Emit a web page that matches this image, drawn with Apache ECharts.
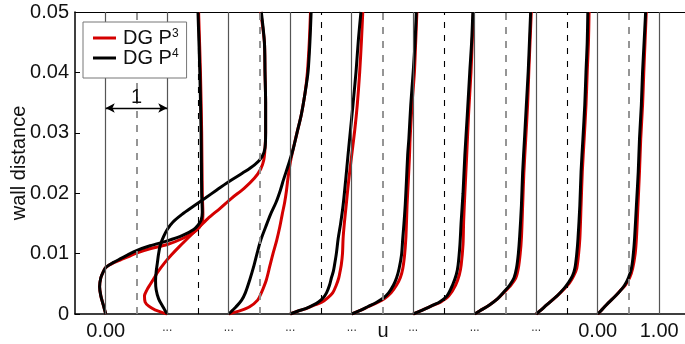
<!DOCTYPE html>
<html>
<head>
<meta charset="utf-8">
<script src="https://cdn.jsdelivr.net/npm/echarts@6/dist/echarts.min.js"></script>
<style>
  html, body { margin: 0; padding: 0; background: #fff; }
  #c { width: 685px; height: 344px; }
</style>
</head>
<body>
<div id="c"></div>
<script>
// ---------- axis ticks ----------
const xTickValues = [0, 1, 2, 3, 4, 5, 6, 7, 8, 9];
const xTickLabels = ['0.00', '...', '...', '...', '...', '...', '...', '...', '0.00', '1.00'];
const solidLineValues = [0, 1, 2, 3, 4, 5, 6, 7, 8, 9];
const greyDashValues = [0.5, 2.5, 4.5, 6.5, 8.5];
const blackDashValues = [1.5, 3.5, 5.5, 7.5];
const scaleBarU = [0, 1];
const scaleBarY = 0.0341;
const scaleBarText = '1';

// ---------- profile 0 ----------
const yP4_0 = [0, 0.0015, 0.003, 0.0045, 0.006, 0.007, 0.0077, 0.0085, 0.0092, 0.0099, 0.0105, 0.0113, 0.0121, 0.0130, 0.0140, 0.0147, 0.0155, 0.0168, 0.020, 0.030, 0.040, 0.050];
const uP4_0 = [0, -0.04, -0.08, -0.10, -0.08, -0.04, 0.00, 0.12, 0.25, 0.38, 0.50, 0.72, 1.00, 1.25, 1.43, 1.50, 1.55, 1.57, 1.56, 1.55, 1.53, 1.50];
const yP3_0 = [0, 0.0015, 0.003, 0.0045, 0.006, 0.007, 0.0077, 0.0085, 0.0090, 0.0095, 0.0101, 0.0108, 0.0115, 0.0125, 0.0135, 0.0143, 0.0152, 0.0165, 0.020, 0.030, 0.040, 0.050];
const uP3_0 = [0, -0.04, -0.08, -0.10, -0.08, -0.04, 0.00, 0.13, 0.25, 0.37, 0.50, 0.72, 1.00, 1.25, 1.43, 1.52, 1.57, 1.58, 1.57, 1.56, 1.54, 1.51];

// ---------- profile 1 ----------
const yP4_1 = [0, 0.0012, 0.0025, 0.004, 0.0055, 0.007, 0.0085, 0.0100, 0.0115, 0.0128, 0.0140, 0.0152, 0.0165, 0.0178, 0.0192, 0.0205, 0.0219, 0.0233, 0.0247, 0.0260, 0.0275, 0.030, 0.035, 0.040, 0.045, 0.050];
const uP4_1 = [0, -0.07, -0.14, -0.18, -0.19, -0.18, -0.16, -0.14, -0.11, -0.06, 0.00, 0.09, 0.24, 0.42, 0.62, 0.80, 1.00, 1.22, 1.42, 1.54, 1.59, 1.60, 1.60, 1.59, 1.58, 1.53];
const yP3_1 = [0, 0.0007, 0.0013, 0.002, 0.003, 0.004, 0.005, 0.006, 0.007, 0.0085, 0.0098, 0.0112, 0.0125, 0.0140, 0.0158, 0.0175, 0.0192, 0.0208, 0.0225, 0.0240, 0.0255, 0.0274, 0.030, 0.035, 0.040, 0.045, 0.050];
const uP3_1 = [0, -0.20, -0.30, -0.36, -0.37, -0.33, -0.27, -0.21, -0.15, -0.04, 0.07, 0.20, 0.33, 0.48, 0.66, 0.86, 1.05, 1.25, 1.42, 1.52, 1.57, 1.59, 1.60, 1.60, 1.59, 1.58, 1.52];

// ---------- profile 2 ----------
const y2 = [0, 0.0006, 0.0012, 0.0023, 0.0035, 0.0056, 0.008, 0.010, 0.0122, 0.0144, 0.0165, 0.0185, 0.0205, 0.0222, 0.025, 0.0274, 0.030, 0.033, 0.0365, 0.0401, 0.045, 0.050];
const uP4_2 = [0, 0.06, 0.12, 0.21, 0.27, 0.34, 0.41, 0.46, 0.52, 0.60, 0.68, 0.77, 0.84, 0.89, 0.98, 1.05, 1.11, 1.18, 1.24, 1.29, 1.32, 1.34];
const uP3_2 = [0, 0.20, 0.34, 0.47, 0.53, 0.61, 0.67, 0.72, 0.78, 0.83, 0.87, 0.91, 0.94, 0.96, 1.00, 1.05, 1.11, 1.18, 1.24, 1.28, 1.31, 1.33];

// ---------- profile 3 ----------
const y3 = [0, 0.0005, 0.0009, 0.0015, 0.002, 0.0026, 0.0035, 0.0048, 0.006, 0.007, 0.0081, 0.010, 0.0125, 0.015, 0.018, 0.022, 0.0263, 0.0305, 0.0346, 0.0401, 0.0456, 0.050];
const uP4_3 = [0, 0.13, 0.25, 0.38, 0.46, 0.53, 0.59, 0.64, 0.67, 0.70, 0.72, 0.75, 0.78, 0.82, 0.86, 0.90, 0.94, 0.98, 1.02, 1.07, 1.11, 1.15];
const uP3_3 = [0, 0.13, 0.26, 0.40, 0.52, 0.60, 0.69, 0.75, 0.79, 0.81, 0.83, 0.85, 0.86, 0.88, 0.91, 0.95, 1.00, 1.05, 1.09, 1.13, 1.16, 1.18];

// ---------- profile 4 ----------
const y4 = [0, 0.0005, 0.0012, 0.0019, 0.0026, 0.0035, 0.0048, 0.006, 0.0075, 0.0098, 0.0125, 0.015, 0.018, 0.022, 0.0263, 0.0291, 0.0346, 0.0401, 0.045, 0.050];
const uP4_4 = [0, 0.12, 0.26, 0.40, 0.51, 0.60, 0.68, 0.73, 0.77, 0.81, 0.83, 0.85, 0.87, 0.89, 0.91, 0.93, 0.96, 1.00, 1.03, 1.05];
const uP3_4 = [0, 0.12, 0.27, 0.42, 0.54, 0.64, 0.73, 0.79, 0.83, 0.86, 0.88, 0.89, 0.90, 0.92, 0.94, 0.95, 0.98, 1.02, 1.04, 1.06];

// ---------- profile 5 ----------
const y5 = [0, 0.0005, 0.00094, 0.0015, 0.002, 0.003, 0.0048, 0.0065, 0.0081, 0.0115, 0.0153, 0.020, 0.0263, 0.033, 0.0401, 0.045, 0.050];
const uP4_5 = [0, 0.12, 0.21, 0.33, 0.43, 0.55, 0.64, 0.70, 0.73, 0.76, 0.78, 0.81, 0.84, 0.88, 0.92, 0.95, 0.97];
const uP3_5 = [0, 0.12, 0.21, 0.34, 0.45, 0.58, 0.69, 0.75, 0.78, 0.81, 0.82, 0.84, 0.87, 0.90, 0.94, 0.96, 0.98];

// ---------- profile 6 ----------
const y6 = [0, 0.0005, 0.0015, 0.0025, 0.0036, 0.0048, 0.006, 0.0076, 0.010, 0.0126, 0.018, 0.0235, 0.029, 0.0346, 0.0401, 0.045, 0.050];
const uP4_6 = [0, 0.08, 0.24, 0.37, 0.47, 0.57, 0.64, 0.68, 0.71, 0.73, 0.76, 0.78, 0.81, 0.84, 0.87, 0.89, 0.91];
const uP3_6 = [0, 0.08, 0.24, 0.37, 0.48, 0.59, 0.67, 0.71, 0.74, 0.76, 0.78, 0.80, 0.83, 0.86, 0.88, 0.90, 0.92];

// ---------- profile 7 ----------
const y7 = [0, 0.0005, 0.0015, 0.0031, 0.0042, 0.0051, 0.0063, 0.0076, 0.010, 0.0125, 0.018, 0.0236, 0.029, 0.0346, 0.0401, 0.045, 0.050];
const uP4_7 = [0, 0.06, 0.17, 0.35, 0.45, 0.52, 0.59, 0.63, 0.66, 0.68, 0.71, 0.73, 0.76, 0.79, 0.81, 0.83, 0.84];
const uP3_7 = [0, 0.06, 0.17, 0.35, 0.46, 0.54, 0.61, 0.66, 0.69, 0.71, 0.73, 0.75, 0.78, 0.81, 0.83, 0.85, 0.86];

// ---------- profile 8 ----------
const y8 = [0, 0.0005, 0.0015, 0.0031, 0.004, 0.0048, 0.006, 0.0076, 0.010, 0.0125, 0.018, 0.0236, 0.029, 0.0346, 0.0401, 0.045, 0.050];
const uP4_8 = [0, 0.05, 0.14, 0.30, 0.38, 0.44, 0.50, 0.55, 0.58, 0.60, 0.63, 0.66, 0.68, 0.71, 0.73, 0.755, 0.78];
const uP3_8 = [0, 0.05, 0.14, 0.30, 0.38, 0.45, 0.52, 0.57, 0.61, 0.63, 0.655, 0.68, 0.70, 0.73, 0.75, 0.77, 0.79];

const stationOffsets = [0, 1, 2, 3, 4, 5, 6, 7, 8];
const profilesP3 = [[yP3_0, uP3_0], [yP3_1, uP3_1], [y2, uP3_2], [y3, uP3_3], [y4, uP3_4], [y5, uP3_5], [y6, uP3_6], [y7, uP3_7], [y8, uP3_8]];
const profilesP4 = [[yP4_0, uP4_0], [yP4_1, uP4_1], [y2, uP4_2], [y3, uP4_3], [y4, uP4_4], [y5, uP4_5], [y6, uP4_6], [y7, uP4_7], [y8, uP4_8]];

const RED = '#d40000';
const BLACK = '#000000';
const FONT = '"Liberation Sans", Arial, Helvetica, sans-serif';
const FS = 20;

function profileSeries(name, color, prof, idx, z) {
  const yy = prof[0], uu = prof[1];
  return {
    type: 'line', name: name, color: color, z: z,
    data: yy.map((y, i) => [stationOffsets[idx] + uu[i], y]),
    showSymbol: false, symbol: 'none', smooth: 0.3, silent: true,
    lineStyle: { color: color, width: 3 },
    clip: true
  };
}

const guideLines = [];
solidLineValues.forEach(v => guideLines.push({ xAxis: v, lineStyle: { color: '#555', width: 1.2, type: 'solid' } }));
greyDashValues.forEach(v => guideLines.push({ xAxis: v, lineStyle: { color: '#8a8a8a', width: 1.8, type: [7, 7] } }));
blackDashValues.forEach(v => guideLines.push({ xAxis: v, lineStyle: { color: '#000', width: 1.1, type: [6, 7] } }));
guideLines.push([
  { coord: [scaleBarU[0], scaleBarY], symbol: 'arrow', symbolSize: [7, 9],
    lineStyle: { color: '#000', width: 1.3, type: 'solid' },
    label: { show: true, position: 'middle', formatter: scaleBarText, fontSize: FS, color: '#111', fontFamily: FONT, distance: 1 } },
  { coord: [scaleBarU[1], scaleBarY], symbol: 'arrow', symbolSize: [7, 9] }
]);

const series = [{
  type: 'line', name: 'guides', data: [[-0.5, 0]], showSymbol: false, symbol: 'none', z: 1, silent: true,
  lineStyle: { width: 0 },
  markLine: { silent: true, symbol: 'none', animation: false, label: { show: false }, data: guideLines }
}];
profilesP3.forEach((p, i) => series.push(profileSeries('DG P3', RED, p, i, 3)));
profilesP4.forEach((p, i) => series.push(profileSeries('DG P4', BLACK, p, i, 4)));

const chart = echarts.init(document.getElementById('c'), null, { renderer: 'canvas', width: 685, height: 344 });
chart.setOption({
  animation: false,
  backgroundColor: '#fff',
  textStyle: { fontFamily: FONT },
  grid: { left: 75, right: 0, top: 12, bottom: 30, containLabel: false, outerBoundsMode: 'none' },
  legend: {
    data: ['DG P3', 'DG P4'], orient: 'vertical', left: 83, top: 22,
    padding: [6, 8, 10, 10], itemGap: 0, itemWidth: 23, itemHeight: 3, icon: 'rect',
    backgroundColor: '#fff', borderColor: '#777', borderWidth: 1, z: 10,
    selectedMode: false,
    textStyle: { fontSize: FS, color: '#111', lineHeight: 20, fontFamily: FONT, padding: [0, 0, 0, 2],
      rich: { sup: { fontSize: 12, lineHeight: 12, verticalAlign: 'top', color: '#111', fontFamily: FONT } } },
    formatter: function (name) {
      const m = name.match(/^(.*P)(\d)$/);
      return m ? m[1] + '{sup|' + m[2] + '}' : name;
    }
  },
  xAxis: [{
    type: 'value', min: -0.5, max: 9.42, position: 'bottom',
    axisLine: { show: true, onZero: false, lineStyle: { color: '#000', width: 1.5 } },
    axisTick: { show: false }, splitLine: { show: false },
    axisLabel: {
      customValues: xTickValues, fontSize: FS, color: '#111', margin: 7, fontFamily: FONT,
      formatter: function (v) {
        const i = xTickValues.indexOf(Math.round(v));
        const t = i >= 0 ? xTickLabels[i] : '';
        return t === '...' ? '{dots|...}' : t;
      },
      rich: { dots: { fontSize: 12, color: '#333', fontFamily: FONT, padding: [1, 0, 0, 0] } }
    },
    name: 'u', nameLocation: 'middle', nameGap: 7, nameMoveOverlap: false,
    nameTextStyle: { fontSize: FS, color: '#111', padding: [0, 0, 0, 6], fontFamily: FONT }
  }, {
    type: 'value', min: -0.5, max: 9.42, position: 'top',
    axisLine: { show: true, onZero: false, lineStyle: { color: '#000', width: 1.2 } },
    axisTick: { show: false }, axisLabel: { show: false }, splitLine: { show: false }
  }],
  yAxis: {
    type: 'value', min: 0, max: 0.05, interval: 0.01,
    axisLine: { show: true, onZero: false, lineStyle: { color: '#000', width: 1.5 } },
    axisTick: { show: true, inside: true, length: 5, lineStyle: { color: '#000', width: 1 } },
    axisLabel: { fontSize: FS, color: '#111', margin: 6, fontFamily: FONT,
      formatter: v => (v === 0 ? '0' : v.toFixed(2)) },
    splitLine: { show: false },
    name: 'wall distance', nameLocation: 'middle', nameGap: 46, nameMoveOverlap: false,
    nameTextStyle: { fontSize: FS, color: '#111', fontFamily: FONT }
  },
  series: series
});
</script>
</body>
</html>
